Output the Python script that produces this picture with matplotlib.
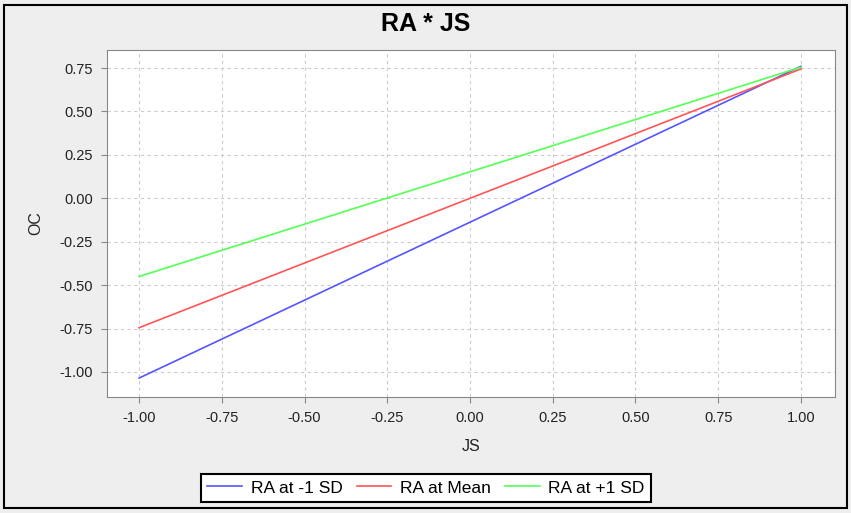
import matplotlib
matplotlib.use("Agg")
import matplotlib.pyplot as plt
from matplotlib.patches import Rectangle

# simple slopes of OC on JS at three RA levels
js = [-1.0, 1.0]
ra_low = [-1.035, 0.76]
ra_mean = [-0.745, 0.745]
ra_high = [-0.45, 0.755]
series_names = ["RA at -1 SD", "RA at Mean", "RA at +1 SD"]
series_colors = ["#5555ff", "#ff5555", "#55ff55"]
x_ticks = [-1.00, -0.75, -0.50, -0.25, 0.00, 0.25, 0.50, 0.75, 1.00]
y_ticks = [-1.00, -0.75, -0.50, -0.25, 0.00, 0.25, 0.50, 0.75]

plt.rcParams["font.family"] = ["Liberation Sans", "DejaVu Sans"]

fig = plt.figure(figsize=(8.51, 5.13), dpi=100)
fig.patch.set_facecolor("#eeeeee")
# outer frame
fig.add_artist(Rectangle((4 / 851, 5 / 513), 843 / 851, 503 / 513, transform=fig.transFigure,
                         fill=False, edgecolor="black", linewidth=1.5))

ax = fig.add_axes([107 / 851, 1 - 397 / 513, 728 / 851, 347 / 513])
ax.set_facecolor("white")

for y, name, c in zip([ra_low, ra_mean, ra_high], series_names, series_colors):
    ax.plot(js, y, color=c, linewidth=1.2, label=name)

ax.set_xlim(-1.097, 1.103)
ax.set_ylim(-1.144, 0.854)
ax.set_xticks(x_ticks)
ax.set_yticks(y_ticks)
ax.set_xticklabels([f"{t:.2f}" for t in x_ticks])
ax.set_yticklabels([f"{t:.2f}" for t in y_ticks])
ax.grid(True, color="#cccccc", linestyle=(0, (3, 3)), linewidth=0.8)
for s in ax.spines.values():
    s.set_color("#888888")
ax.tick_params(direction="out", length=4, color="#888888", labelsize=10.5, labelcolor="#222222", pad=6)

ax.set_xlabel("JS", fontsize=11.5, color="#222222", labelpad=10)
ax.set_ylabel("OC", fontsize=11.5, color="#222222", labelpad=12)
fig.text(0.5, 1 - 24 / 513, "RA * JS", ha="center", va="center", fontsize=18, fontweight="bold")

leg = fig.legend(loc="center", bbox_to_anchor=(426 / 851, 1 - 488 / 513), ncol=3, frameon=True,
                 fancybox=False, edgecolor="black", framealpha=1, fontsize=12.5, handlelength=2.0,
                 columnspacing=0.8, handletextpad=0.5, borderpad=0.35)
leg.get_frame().set_linewidth(1.5)

fig.savefig("out.png", dpi=100, facecolor=fig.get_facecolor())
